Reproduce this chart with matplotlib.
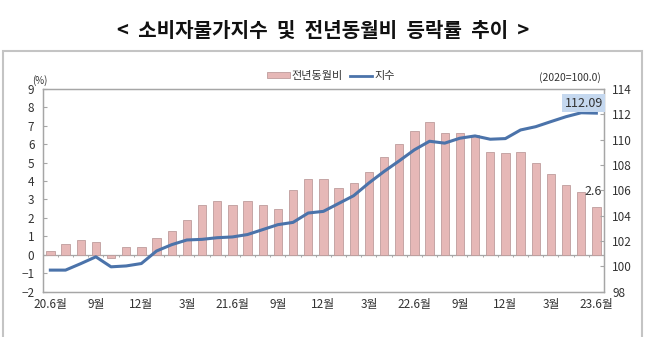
import numpy as np
import matplotlib.pyplot as plt
from matplotlib.patches import Rectangle
from matplotlib.lines import Line2D
from matplotlib.patches import Patch

plt.rcParams['font.family'] = ['Noto Sans CJK KR', 'DejaVu Sans']

# monthly series, 2020.6 ~ 2023.6
months = ["20.6", "7", "8", "9", "10", "11", "12",
          "21.1", "2", "3", "4", "5", "6", "7", "8", "9", "10", "11", "12",
          "22.1", "2", "3", "4", "5", "6", "7", "8", "9", "10", "11", "12",
          "23.1", "2", "3", "4", "5", "6"]
yoy = [0.2, 0.6, 0.8, 0.7, -0.2, 0.4, 0.4,
       0.9, 1.3, 1.9, 2.7, 2.9, 2.7, 2.9, 2.7, 2.5, 3.5, 4.1, 4.1,
       3.6, 3.9, 4.5, 5.3, 6.0, 6.7, 7.2, 6.6, 6.6, 6.5, 5.6, 5.5,
       5.6, 5.0, 4.4, 3.8, 3.4, 2.6]
index = [99.69, 99.69, 100.2, 100.74, 99.95, 100.02, 100.21,
         101.2, 101.7, 102.07, 102.12, 102.25, 102.31, 102.5, 102.89, 103.28, 103.46, 104.2, 104.33,
         104.95, 105.57, 106.57, 107.48, 108.32, 109.19, 109.87, 109.72, 110.11, 110.29, 110.03, 110.08,
         110.76, 111.02, 111.42, 111.81, 112.12, 112.09]
xlabels = ["20.6월", "9월", "12월", "3월", "21.6월", "9월", "12월", "3월",
           "22.6월", "9월", "12월", "3월", "23.6월"]

bar_color = '#E6B8B7'
bar_edge = '#BE9C9C'
line_color = '#4B73AA'
axis_gray = '#A6A6A6'
text_color = '#333333'

fig = plt.figure(figsize=(6.48, 3.37), dpi=100)
ax = fig.add_axes([0.066, 0.135, 0.866, 0.601])
ax2 = ax.twinx()

x = np.arange(len(months))
ax.bar(x, yoy, width=0.55, color=bar_color, edgecolor=bar_edge, linewidth=0.6, zorder=2)
ax.axhline(0, color=axis_gray, lw=0.9, zorder=1)
# small boundary ticks along the zero line
ax.vlines(x[:-1] + 0.5, -0.13, 0, color=axis_gray, lw=0.7, zorder=1)

ax2.plot(x, index, color=line_color, lw=2.2, solid_joinstyle='round', zorder=3)

ax.set_xlim(-0.5, len(months) - 0.5)
ax.set_ylim(-2, 9)
ax.set_yticks(range(-2, 10))
ax2.set_ylim(98, 114)
ax2.set_yticks(range(98, 115, 2))
ax.set_xticks(x[::3])
ax.set_xticklabels(xlabels)

for a in (ax, ax2):
    for s in a.spines.values():
        s.set_color(axis_gray)
        s.set_linewidth(0.9)
    a.tick_params(axis='y', direction='in', length=3, color=axis_gray,
                  labelsize=8.5, labelcolor=text_color, pad=6)
ax.tick_params(axis='x', length=0, labelsize=8.5, labelcolor=text_color, pad=5)

# value labels
ax2.annotate("112.09", xy=(x[-1], index[-1]), xytext=(-9, 7), textcoords='offset points',
             ha='center', va='center', fontsize=9, color=text_color,
             bbox=dict(boxstyle='square,pad=0.2', fc='#C5D8EF', ec='none'), zorder=5)
ax.annotate("2.6", xy=(x[-1], yoy[-1]), xytext=(-2, 11), textcoords='offset points',
            ha='center', va='center', fontsize=9, color=text_color, zorder=5)

# unit labels
fig.text(40 / 648, 1 - 81 / 337, "(%)", fontsize=7, color=text_color, ha='center', va='center')
fig.text(570 / 648, 1 - 78 / 337, "(2020=100.0)", fontsize=7.5, color=text_color,
         ha='center', va='center')

handles = [Patch(facecolor=bar_color, edgecolor=bar_edge, linewidth=0.6),
           Line2D([0], [0], color=line_color, lw=2.0)]
fig.legend(handles, ["전년동월비", "지수"], loc='center', bbox_to_anchor=(331 / 648, 1 - 76 / 337),
           ncol=2, frameon=False, fontsize=8, handlelength=2.0, handleheight=0.45,
           handletextpad=0.2, columnspacing=0.6, labelcolor=text_color)

fig.text(323 / 648, 1 - 30 / 337, "<  소비자물가지수  및  전년동월비  등락률  추이  >", fontsize=14.5,
         fontweight='bold', color='#111111', ha='center', va='center')

# outer frame
fig.patches.append(Rectangle((3 / 648, -0.02), 639 / 648, 1 - 50.5 / 337 + 0.02,
                             transform=fig.transFigure, fill=False, ec='#C4C4C4', lw=1.5))

fig.savefig("out.png", dpi=100)
